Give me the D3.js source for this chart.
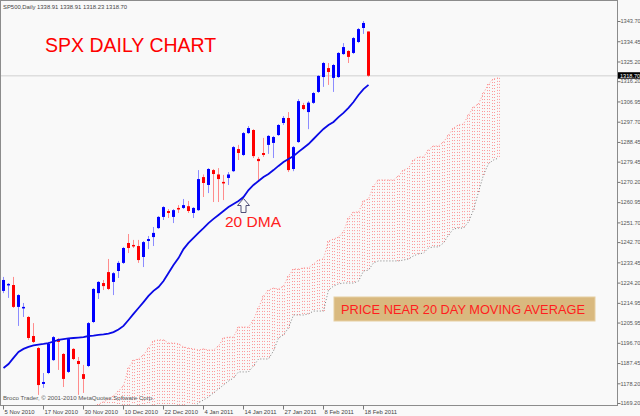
<!DOCTYPE html>
<html>
<head>
<meta charset="utf-8">
<script src="https://cdn.jsdelivr.net/npm/d3@7"></script>
<style>
body { margin: 0; background: #f9f9f9; }
text { font-family: "Liberation Sans", Arial, sans-serif; }
</style>
</head>
<body>
<div id="chart"></div>
<script>
// SPX daily bars, 5 Nov 2010 .. 22 Feb 2011
var openP = [1220.4,1222.9,1223.1,1213.1,1212.4,1208.5,1199.8,1194.3,1177.9,1182.9,
	1188.8,1198.4,1191.6,1183.4,1193.9,1188.4,1182.4,1186.1,1206.2,1219.4,
	1224.0,1229.0,1224.5,1229.5,1233.2,1242.3,1241.4,1240.9,1235.9,1243.2,
	1245.0,1249.1,1254.2,1256.9,1254.2,1258.3,1258.3,1259.1,1256.0,1257.3,
	1272.4,1268.8,1275.6,1273.6,1270.2,1272.0,1275.1,1285.2,1282.5,1292.5,
	1293.9,1280.7,1283.4,1287.1,1288.0,1291.6,1297.1,1299.4,1276.1,1288.4,
	1305.3,1302.1,1306.3,1311.3,1318.1,1322.2,1317.7,1318.1,1328.6,1330.0,
	1329.1,1334.1,1340.5,1338.91];
var highP = [1226.8,1224.0,1226.8,1218.9,1214.9,1208.9,1205.7,1194.8,1182.9,1197.1,
	1199.8,1198.9,1192.0,1198.9,1194.3,1190.2,1186.6,1206.2,1221.7,1224.9,
	1225.4,1235.0,1229.0,1234.1,1240.5,1246.4,1243.7,1243.7,1243.2,1245.5,
	1249.6,1254.6,1259.1,1257.8,1257.8,1259.6,1262.4,1261.5,1258.7,1275.6,
	1273.6,1276.5,1276.1,1276.5,1273.4,1274.7,1286.6,1287.1,1293.0,1295.7,
	1294.3,1281.6,1290.3,1291.6,1291.2,1296.6,1300.3,1302.1,1286.6,1308.0,
	1306.3,1307.1,1311.3,1319.0,1325.0,1324.5,1324.1,1329.5,1333.6,1330.4,
	1336.4,1340.5,1343.7,1338.91];
var lowP = [1219.4,1217.2,1212.6,1204.4,1208.5,1198.0,1196.6,1172.9,1176.1,1182.4,
	1188.4,1184.3,1176.5,1182.9,1188.8,1172.9,1173.8,1185.6,1205.7,1216.7,
	1220.8,1220.8,1218.5,1226.3,1232.7,1237.7,1240.0,1233.2,1231.3,1239.5,
	1240.9,1248.7,1252.8,1253.7,1251.4,1256.0,1257.8,1256.0,1253.7,1256.9,
	1263.3,1265.1,1261.0,1261.0,1261.9,1268.8,1274.7,1280.2,1282.0,1292.1,
	1281.1,1271.1,1281.6,1283.0,1281.1,1291.2,1296.2,1274.7,1275.1,1288.0,
	1303.0,1294.3,1305.8,1310.8,1313.6,1314.5,1311.3,1317.7,1328.2,1324.5,
	1328.6,1333.6,1337.8,1318.23];
var closeP = [1225.4,1223.6,1213.1,1218.5,1213.1,1198.9,1197.1,1177.4,1178.8,1196.2,
	1199.3,1197.1,1180.2,1198.4,1189.3,1187.0,1180.2,1205.7,1221.3,1224.5,
	1222.6,1221.3,1228.5,1233.2,1240.0,1240.0,1240.9,1234.5,1242.7,1244.1,
	1246.9,1254.2,1258.7,1256.0,1257.3,1257.6,1259.6,1256.9,1258.3,1271.5,
	1269.7,1276.1,1273.8,1271.5,1269.5,1273.6,1286.1,1283.4,1292.5,1294.8,
	1282.0,1279.7,1282.5,1291.2,1290.7,1296.2,1299.4,1275.6,1286.1,1307.1,
	1303.5,1306.4,1310.8,1318.6,1324.5,1320.4,1323.6,1329.1,1331.8,1327.3,
	1335.9,1340.0,1342.8,1318.70];

// 20 day moving average, one value per bar
var ma20 = [1185.2,1187.0,1189.8,1192.5,1193.9,1194.8,1195.5,1195.9,1196.2,1196.6,
	1197.3,1198.0,1198.4,1198.7,1198.9,1199.1,1199.3,1199.8,1200.0,1200.3,
	1200.5,1200.9,1201.6,1202.8,1204.4,1207.1,1209.9,1212.6,1215.3,1218.1,
	1220.4,1222.2,1224.9,1228.6,1232.2,1235.4,1239.5,1242.3,1244.6,1246.9,
	1249.1,1251.4,1253.3,1255.1,1256.9,1258.7,1260.1,1261.5,1263.3,1266.5,
	1268.8,1270.6,1272.4,1273.8,1275.6,1277.5,1279.3,1280.7,1282.0,1283.9,
	1285.7,1287.5,1289.8,1292.1,1294.4,1296.2,1297.6,1299.8,1301.7,1304.0,
	1306.7,1309.9,1312.6,1314.5];

// cloud, bar positions 17..99 (shifted forward past the last bar)
var cloudStart = 17;
var spanA = [1167.4,1167.8,1168.7,1169.7,1171.0,1172.4,1174.7,1177.0,1185.2,1188.8,
	1189.3,1191.1,1194.3,1197.5,1198.0,1198.0,1196.6,1196.6,1196.2,1194.8,
	1194.3,1193.9,1193.4,1193.9,1193.4,1193.4,1195.2,1198.9,1199.3,1199.3,
	1203.9,1203.9,1203.9,1207.1,1212.6,1218.1,1220.8,1221.7,1221.3,1222.6,
	1227.2,1230.4,1230.4,1230.9,1230.9,1232.7,1234.5,1235.0,1243.2,1244.1,
	1245.0,1247.3,1253.7,1256.4,1256.4,1261.5,1262.4,1268.3,1271.1,1271.1,
	1271.1,1271.1,1272.9,1275.6,1276.5,1280.2,1281.6,1281.6,1284.8,1286.6,
	1286.6,1288.4,1291.6,1294.8,1296.2,1296.6,1300.8,1304.4,1305.8,1310.8,
	1314.9,1317.2,1317.7];
var spanB = [1130.0,1130.0,1131.0,1133.0,1135.0,1136.0,1137.0,1137.0,1138.0,1138.0,
	1138.0,1139.0,1139.0,1140.0,1141.0,1143.0,1147.0,1153.0,1158.0,1161.0,
	1166.0,1167.4,1169.2,1170.6,1171.9,1173.8,1175.6,1177.4,1179.2,1180.6,
	1183.4,1183.4,1183.4,1186.1,1189.3,1189.3,1189.3,1193.0,1198.9,1200.3,
	1203.5,1209.4,1209.4,1209.4,1209.9,1211.2,1211.2,1211.2,1220.8,1222.6,
	1223.6,1224.0,1224.0,1224.0,1224.9,1229.5,1229.9,1233.2,1234.1,1234.1,
	1234.1,1234.1,1234.1,1234.5,1235.0,1236.4,1237.3,1237.7,1240.0,1240.5,
	1240.5,1242.3,1245.9,1248.7,1249.1,1249.1,1251.9,1257.4,1265.6,1273.4,
	1278.5,1280.2,1281.1];

// axis labels
var dateIdx = [0, 8, 16, 24, 32, 40, 48, 56, 64, 72];
var dateLabels = ["5 Nov 2010", "17 Nov 2010", "30 Nov 2010", "10 Dec 2010", "22 Dec 2010",
	"4 Jan 2011", "14 Jan 2011", "27 Jan 2011", "8 Feb 2011", "18 Feb 2011"];
var priceTicks = [1343.70, 1334.45, 1325.20, 1316.20, 1306.95, 1297.70, 1288.45, 1279.45,
	1270.20, 1260.95, 1251.70, 1242.70, 1233.45, 1224.20, 1214.95, 1205.95, 1196.70,
	1187.45, 1178.20, 1169.20];

var width = 640, height = 416;
var plotL = 1, plotR = 617, plotT = 1, plotB = 405;

var bars = openP.map(function(o, i){
	return { i: i, o: o, h: highP[i], l: lowP[i], c: closeP[i] };
});
var cloud = spanA.map(function(a, k){
	return { i: cloudStart + k, a: a, b: spanB[k] };
});

var x = d3.scaleLinear().domain([0, 99]).range([3, 498]);
var y = d3.scaleLinear().domain([1169.2, 1343.7]).range([403, 21]);

var svg = d3.select("#chart").append("svg")
	.attr("width", width)
	.attr("height", height)
	.style("display", "block")
	.style("background", "#f9f9f9");

svg.append("clipPath").attr("id", "plot")
	.append("rect")
	.attr("x", plotL).attr("y", plotT)
	.attr("width", plotR - plotL).attr("height", plotB - plotT);

var plot = svg.append("g").attr("clip-path", "url(#plot)");

// cloud: dotted vertical hatching
var hatch = [];
cloud.forEach(function(d){
	hatch.push({ x: Math.round(x(d.i)) - 1, a: d.a, b: d.b });
	hatch.push({ x: Math.round(x(d.i)) + 1, a: d.a, b: d.b });
});
plot.append("g").selectAll("line")
	.data(hatch)
	.enter()
	.append("line")
	.attr("x1", function(d){ return d.x + 0.5; })
	.attr("x2", function(d){ return d.x + 0.5; })
	.attr("y1", function(d){ return y(d.a); })
	.attr("y2", function(d){ return y(d.b); })
	.attr("stroke", "#ff5a5a")
	.attr("stroke-width", 1)
	.attr("stroke-dasharray", "1,2")
	.style("opacity", 0.6);

var spanLine = function(key){
	return d3.line()
		.x(function(d){ return x(d.i) + 0.5; })
		.y(function(d){ return y(d[key]); });
};
plot.append("path")
	.datum(cloud)
	.attr("d", spanLine("a"))
	.attr("fill", "none")
	.attr("stroke", "#ff8c8c")
	.attr("stroke-dasharray", "1,2");
plot.append("path")
	.datum(cloud)
	.attr("d", spanLine("b"))
	.attr("fill", "none")
	.attr("stroke", "#808080")
	.attr("stroke-dasharray", "1,2");

// last price line
plot.append("line")
	.attr("x1", plotL).attr("x2", plotR)
	.attr("y1", y(closeP[closeP.length - 1]))
	.attr("y2", y(closeP[closeP.length - 1]))
	.attr("stroke", "#dedede")
	.attr("stroke-width", 1.6);

// candles
var candle = plot.append("g").selectAll("g")
	.data(bars)
	.enter()
	.append("g");

candle.append("line")
	.attr("x1", function(d){ return Math.round(x(d.i)) + 0.5; })
	.attr("x2", function(d){ return Math.round(x(d.i)) + 0.5; })
	.attr("y1", function(d){ return y(d.h); })
	.attr("y2", function(d){ return y(d.l); })
	.attr("stroke", function(d){ return d.c >= d.o ? "#8c8cff" : "#ff8c8c"; })
	.attr("stroke-width", 1);

candle.append("rect")
	.attr("x", function(d){ return Math.round(x(d.i)) - 1; })
	.attr("width", 3)
	.attr("y", function(d){ return y(Math.max(d.o, d.c)); })
	.attr("height", function(d){ return Math.max(1.5, Math.abs(y(d.o) - y(d.c))); })
	.attr("fill", function(d){ return d.c >= d.o ? "#0000ff" : "#ff0000"; });

// 20 DMA
plot.append("path")
	.datum(ma20)
	.attr("d", d3.line()
		.x(function(d, i){ return x(i) + 0.5; })
		.y(function(d){ return y(d); }))
	.attr("fill", "none")
	.attr("stroke", "#0a0ae6")
	.attr("stroke-width", 1.8);

// frame
svg.append("rect")
	.attr("x", plotL - 0.5).attr("y", plotT - 0.5)
	.attr("width", plotR - plotL + 1).attr("height", plotB - plotT + 1)
	.attr("fill", "none")
	.attr("stroke", "#8c8c8c");

// price axis
var yAxis = d3.axisRight(y)
	.tickValues(priceTicks)
	.tickSize(3)
	.tickFormat(d3.format(".2f"));
var gy = svg.append("g")
	.attr("transform", "translate(" + (plotR + 0.5) + ",0)")
	.call(yAxis);
gy.select(".domain").remove();
gy.selectAll("line").attr("stroke", "#777");
gy.selectAll("text")
	.attr("x", 3)
	.attr("fill", "#555")
	.style("font-size", "5.6px")
	.style("font-family", "'Liberation Sans', Arial, sans-serif");

// time axis
var xAxis = d3.axisBottom(x)
	.tickValues(dateIdx)
	.tickSize(4)
	.tickFormat(function(d, i){ return dateLabels[i]; });
var gx = svg.append("g")
	.attr("transform", "translate(0," + (plotB + 0.5) + ")")
	.call(xAxis);
gx.select(".domain").remove();
gx.selectAll(".tick").attr("transform", function(d){
	return "translate(" + (Math.round(x(d)) + 0.5) + ",0)";
});
gx.selectAll("line").attr("stroke", "#777");
gx.selectAll("text")
	.attr("text-anchor", "start")
	.attr("x", 1)
	.attr("y", 4)
	.attr("fill", "#444")
	.style("font-size", "5.9px")
	.style("font-family", "'Liberation Sans', Arial, sans-serif");

// current price tag
var lastY = y(closeP[closeP.length - 1]);
svg.append("rect")
	.attr("x", plotR + 1).attr("y", lastY - 3.5)
	.attr("width", 23).attr("height", 6.5)
	.attr("fill", "#000");
svg.append("text")
	.attr("x", plotR + 3).attr("y", lastY + 2)
	.attr("fill", "#fff")
	.style("font-size", "5.6px")
	.text(d3.format(".2f")(closeP[closeP.length - 1]));

// header and notes
svg.append("text")
	.attr("x", 3).attr("y", 8.5)
	.attr("fill", "#444")
	.style("font-size", "5.9px")
	.text("SP500,Daily  " + [openP[73], highP[73], lowP[73], closeP[73]].map(d3.format(".2f")).join(" "));

svg.append("text")
	.attr("x", 3).attr("y", 400)
	.attr("fill", "#555")
	.style("font-size", "6.1px")
	.text("Broco Trader, \u00a9 2001-2010 MetaQuotes Software Corp.");

svg.append("text")
	.attr("x", 45).attr("y", 52)
	.attr("fill", "#ff0000")
	.style("font-size", "19.5px")
	.text("SPX DAILY CHART");

svg.append("text")
	.attr("x", 225).attr("y", 227)
	.attr("fill", "#ff2020")
	.style("font-size", "15.5px")
	.text("20 DMA");

// hollow up arrow
svg.append("path")
	.attr("d", "M243.5,198.5 L249.5,205.5 L246,205.5 L246,212.5 L241,212.5 L241,205.5 L237.5,205.5 Z")
	.attr("fill", "none")
	.attr("stroke", "#505078")
	.attr("stroke-width", 1);

svg.append("rect")
	.attr("x", 334).attr("y", 297)
	.attr("width", 261).attr("height", 24)
	.attr("fill", "#d9b97f")
	.attr("stroke", "#e6cfa2")
	.attr("stroke-width", 1);
svg.append("text")
	.attr("x", 341).attr("y", 313.5)
	.attr("fill", "#ff1e1e")
	.style("font-size", "12.8px")
	.text("PRICE NEAR 20 DAY MOVING AVERAGE");
</script>
</body>
</html>
